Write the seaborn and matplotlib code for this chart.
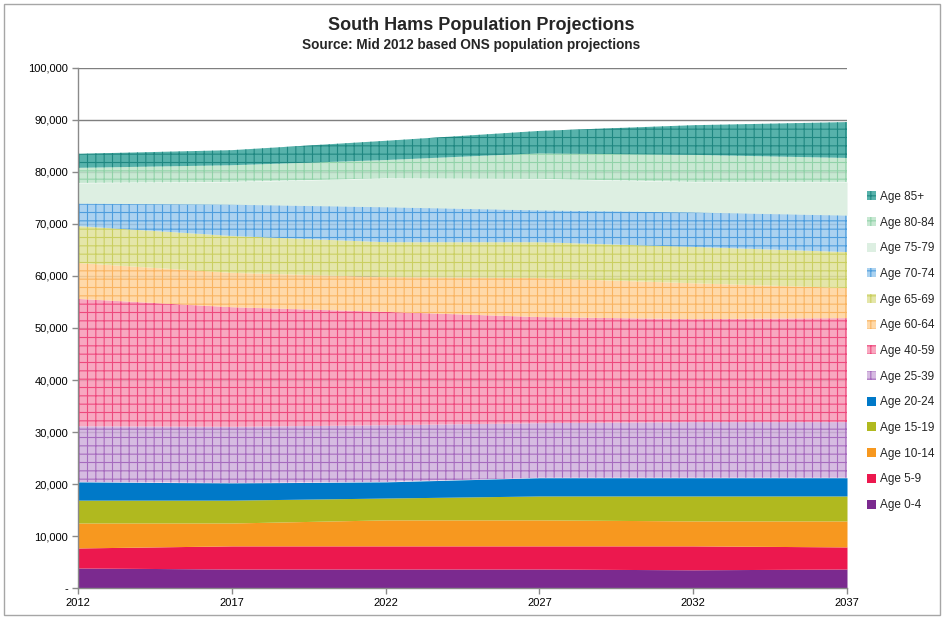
import matplotlib
matplotlib.use("Agg")
import matplotlib.pyplot as plt
from matplotlib.patches import Rectangle
from matplotlib.ticker import FuncFormatter
import seaborn as sns
import numpy as np
import pandas as pd

years = [2012, 2017, 2022, 2027, 2032, 2037]
age_groups = ["Age 0-4", "Age 5-9", "Age 10-14", "Age 15-19", "Age 20-24",
              "Age 25-39", "Age 40-59", "Age 60-64", "Age 65-69", "Age 70-74",
              "Age 75-79", "Age 80-84", "Age 85+"]

age_0_4 = [3850, 3650, 3650, 3650, 3500, 3650]
age_5_9 = [3850, 4450, 4450, 4450, 4600, 4250]
age_10_14 = [4800, 4400, 5000, 5000, 4800, 5000]
age_15_19 = [4400, 4400, 4200, 4600, 4800, 4800]
age_20_24 = [3500, 3300, 3100, 3500, 3500, 3500]
age_25_39 = [10700, 10800, 10900, 10500, 10700, 10700]
age_40_59 = [24500, 23000, 21800, 20400, 19800, 20000]
age_60_64 = [6900, 6600, 6700, 7500, 6900, 5800]
age_65_69 = [7100, 7100, 6700, 6900, 7000, 6900]
age_70_74 = [4400, 6100, 6800, 6200, 6700, 7100]
age_75_79 = [3900, 4300, 5500, 6000, 5800, 6400]
age_80_84 = [2900, 3200, 3500, 4900, 5200, 4600]
age_85_plus = [2700, 2900, 3700, 4300, 5700, 6900]

series = [age_0_4, age_5_9, age_10_14, age_15_19, age_20_24, age_25_39,
          age_40_59, age_60_64, age_65_69, age_70_74, age_75_79, age_80_84,
          age_85_plus]

df = pd.DataFrame(dict(zip(age_groups, series)), index=years)

# (face colour, hatch colour or None)
styles = [
    ("#7B2A8F", None),
    ("#EC184E", None),
    ("#F7981F", None),
    ("#B0B91F", None),
    ("#0079C8", None),
    ("#CFAFDC", "#9E5DB8"),
    ("#F799B5", "#EC3A72"),
    ("#FFD39A", "#F8AE55"),
    ("#E0E29A", "#C6CB55"),
    ("#9CCAEE", "#3D94DA"),
    ("#DDEFE2", None),
    ("#BDE4CB", "#88CFA2"),
    ("#3AA59C", "#16807A"),
]

sns.set_theme(style="white")
plt.rcParams["font.family"] = ["Liberation Sans", "DejaVu Sans"]
plt.rcParams["hatch.linewidth"] = 0.8

fig = plt.figure(figsize=(9.44, 6.18), dpi=100)
ax = fig.add_axes([78 / 944, 1 - 588 / 618, (847 - 78) / 944, (588 - 68) / 618])

polys = ax.stackplot(df.index.values, *[df[c].values for c in age_groups],
                     labels=age_groups, zorder=2)
for poly, (face, hatch) in zip(polys, styles):
    poly.set_facecolor(face)
    poly.set_linewidth(0)
    if hatch is not None:
        poly.set_hatch("++")
        poly.set_edgecolor(hatch)
        poly.set_alpha(0.85)
    else:
        poly.set_edgecolor(face)

ax.set_xlim(2012, 2037)
ax.set_ylim(0, 100000)
ax.set_xticks(years)
ax.set_yticks(np.arange(0, 100001, 10000))
ax.yaxis.set_major_formatter(FuncFormatter(lambda v, p: "-" if v == 0 else f"{v:,.0f}"))
ax.grid(axis="y", color="#7f7f7f", linewidth=1, zorder=1)
ax.set_axisbelow(True)
ax.tick_params(axis="both", labelsize=8, colors="#000000", length=4,
               width=1, direction="out", pad=3)
ax.tick_params(axis="both", color="#8a8a8a")
ax.yaxis.set_ticks_position("left")
ax.xaxis.set_ticks_position("bottom")
for side in ["top", "right"]:
    ax.spines[side].set_visible(False)
for side in ["left", "bottom"]:
    ax.spines[side].set_color("#8a8a8a")
    ax.spines[side].set_linewidth(1)
    ax.spines[side].set_zorder(5)

handles, labels = ax.get_legend_handles_labels()
leg = fig.legend(handles[::-1], labels[::-1], loc="center left",
                 bbox_to_anchor=(0.912, 1 - 351 / 618), frameon=False,
                 fontsize=8.5, handlelength=0.8, handleheight=0.8,
                 handletextpad=0.3, labelspacing=1.16, borderpad=0)

fig.text(481 / 944, 1 - 26 / 618, "South Hams Population Projections",
         ha="center", va="center", fontsize=13, fontweight="bold")
fig.text(471 / 944, 1 - 45 / 618, "Source: Mid 2012 based ONS population projections",
         ha="center", va="center", fontsize=9.8, fontweight="bold")

fig.patches.append(Rectangle((4 / 944, 3 / 618), 936 / 944, 611 / 618,
                             transform=fig.transFigure, fill=False,
                             edgecolor="#a6a6a6", linewidth=1))

fig.savefig("out.png", dpi=100)
